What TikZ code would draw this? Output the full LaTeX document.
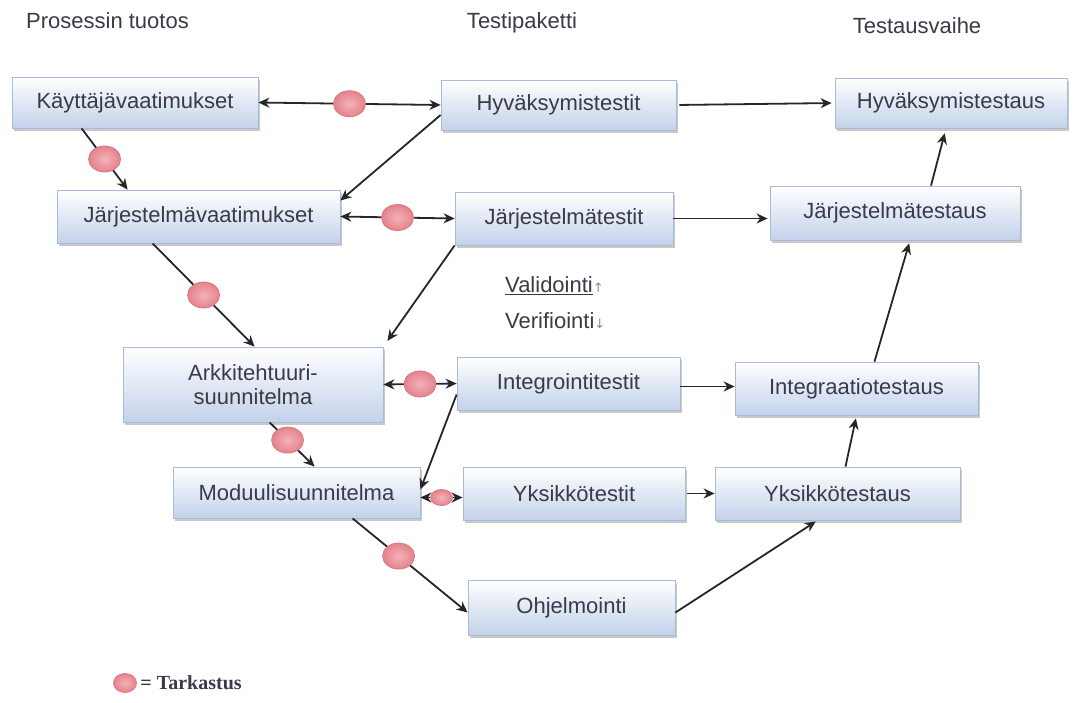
\documentclass[tikz,border=0pt]{standalone}
\usepackage{fontspec}
\setmainfont{Liberation Sans}
\newfontfamily\serifbold{Liberation Serif}
\newfontfamily\arrowfont{DejaVu Sans}
\usetikzlibrary{shadows,arrows.meta,calc,shapes.geometric}
\definecolor{boxblue}{HTML}{C3D2EA}
\definecolor{boxline}{HTML}{A8BBD8}
\definecolor{txt}{HTML}{3A3A48}
\definecolor{pinkin}{HTML}{F3B2B8}
\definecolor{pinkout}{HTML}{E5828C}
\definecolor{pinkline}{HTML}{DA7681}
\tikzset{
  stagebox/.style={draw=boxline, line width=0.8pt, top color=white, bottom color=boxblue,
    drop shadow={shadow xshift=2pt, shadow yshift=-3pt, fill=black!35, opacity=0.6},
    text=txt, font=\fontsize{22}{24}\selectfont, align=center, inner sep=0pt},
  conn/.style={line width=1.8pt, draw=black!85, -{Stealth[length=11pt,width=10pt]}},
  biconn/.style={line width=1.8pt, draw=black!85, {Stealth[length=11pt,width=10pt]}-{Stealth[length=11pt,width=10pt]}},
  insp/.style={ellipse, draw=pinkline, line width=0.8pt, inner color=pinkin, outer color=pinkout,
    minimum width=32pt, minimum height=26pt, inner sep=0pt},
  smallinsp/.style={insp, minimum width=22pt, minimum height=16pt},
  header/.style={text=txt, font=\fontsize{22}{24}\selectfont, inner sep=0pt}
}
\begin{document}
\begin{tikzpicture}[x=1pt,y=-1pt]
\useasboundingbox[fill=white] (0,0) rectangle (1082,702);
% headers
\node[header, anchor=west] (h1) at (26,21) {Prosessin tuotos};
\node[header] (h2) at (522,23) {Testipaketti};
\node[header] (h3) at (917,26) {Testausvaihe};
% boxes
\node[stagebox, minimum width=246pt, minimum height=51pt] (KV) at (135,102.5) {Käyttäjävaatimukset};
\node[stagebox, minimum width=235pt, minimum height=50pt] (HT) at (558.5,105) {Hyväksymistestit};
\node[stagebox, minimum width=232pt, minimum height=50pt] (HTS) at (951,103) {Hyväksymistestaus};
\node[stagebox, minimum width=283pt, minimum height=53pt] (JV) at (198.5,216.5) {Järjestelmävaatimukset};
\node[stagebox, minimum width=218pt, minimum height=53pt] (JT) at (564,218.5) {Järjestelmätestit};
\node[stagebox, minimum width=250pt, minimum height=54pt] (JTS) at (895,213) {Järjestelmätestaus};
\node[stagebox, minimum width=260pt, minimum height=75pt] (AS) at (253,384.5) {Arkkitehtuuri-\\suunnitelma};
\node[stagebox, minimum width=223pt, minimum height=53pt] (IT) at (568.5,383.5) {Integrointitestit};
\node[stagebox, minimum width=243pt, minimum height=53pt] (ITS) at (856.5,388.5) {Integraatiotestaus};
\node[stagebox, minimum width=247pt, minimum height=51pt] (MS) at (296.5,492.5) {Moduulisuunnitelma};
\node[stagebox, minimum width=222pt, minimum height=53pt] (YT) at (574,493.5) {Yksikkötestit};
\node[stagebox, minimum width=245pt, minimum height=53pt] (YTS) at (837.5,493.5) {Yksikkötestaus};
\node[stagebox, minimum width=207pt, minimum height=55pt] (OH) at (571.5,607.5) {Ohjelmointi};
% validation / verification
\node[header, anchor=west] (val) at (505,286) {\underline{Validointi}{\arrowfont\fontsize{13}{14}\selectfont\color{black!45}↑}};
\node[header, anchor=west] (ver) at (505,321) {Verifiointi{\arrowfont\fontsize{13}{14}\selectfont\color{black!45}↓}};
% connectors
\draw[biconn] (KV.east) -- node[insp] (e1) {} (HT.west);
\draw[conn, shorten <=3pt, shorten >=3pt] (HT.east) -- (HTS.west);
\draw[conn] ([xshift=70pt]KV.south west) -- node[insp] (e2) {} ([xshift=71pt]JV.north west);
\draw[conn] ([yshift=-10pt]HT.west) -- ([yshift=16pt]JV.east);
\draw[biconn] (JV.east) -- node[insp] (e3) {} (JT.west);
\draw[conn, shorten >=2pt] (JT.east) -- (JT.east -| JTS.west);
\draw[conn, shorten >=5pt] ([xshift=36pt]JTS.north) -- ([xshift=-5pt]HTS.south);
\draw[conn] ([xshift=96pt]JV.south west) -- node[insp] (e4) {} ([xshift=132pt]AS.north west);
\draw[conn, shorten >=7pt] (JT.south west) -- (AS.north east);
\draw[biconn] (AS.east) -- node[insp] (e5) {} (IT.west);
\draw[conn] ([yshift=-3pt]IT.east) -- ([yshift=-3pt]IT.east -| ITS.west);
\draw[conn, shorten >=3pt] ([xshift=18pt]ITS.north) -- ([xshift=15pt]JTS.south);
\draw[conn] ([xshift=147pt]AS.south west) -- node[insp, pos=0.4] (e6) {} ([xshift=142pt]MS.north west);
\draw[conn] ([yshift=-11pt]IT.west) -- ([yshift=3pt]MS.east);
\draw[biconn] ([yshift=-5pt]MS.east) -- node[smallinsp] (e7) {} ([yshift=-5pt]MS.east -| YT.west);
\draw[conn, shorten <=2pt] (YT.east) -- (YT.east -| YTS.west);
\draw[conn, shorten >=3pt] ([xshift=8pt]YTS.north) -- (ITS.south);
\draw[conn] ([xshift=180pt]MS.south west) -- node[insp, pos=0.4] (e8) {} ([yshift=-5pt]OH.west);
\draw[conn, shorten >=2pt] ([yshift=-5pt]OH.east) -- ([xshift=-20pt]YTS.south);
% legend
\node[smallinsp, minimum width=23pt, minimum height=19pt] (leg) at (125,683) {};
\node[anchor=west, inner sep=0pt, text=txt, font=\serifbold\bfseries\fontsize{20}{22}\selectfont] (legt) at (leg.east) {\,= Tarkastus};
\end{tikzpicture}
\end{document}
